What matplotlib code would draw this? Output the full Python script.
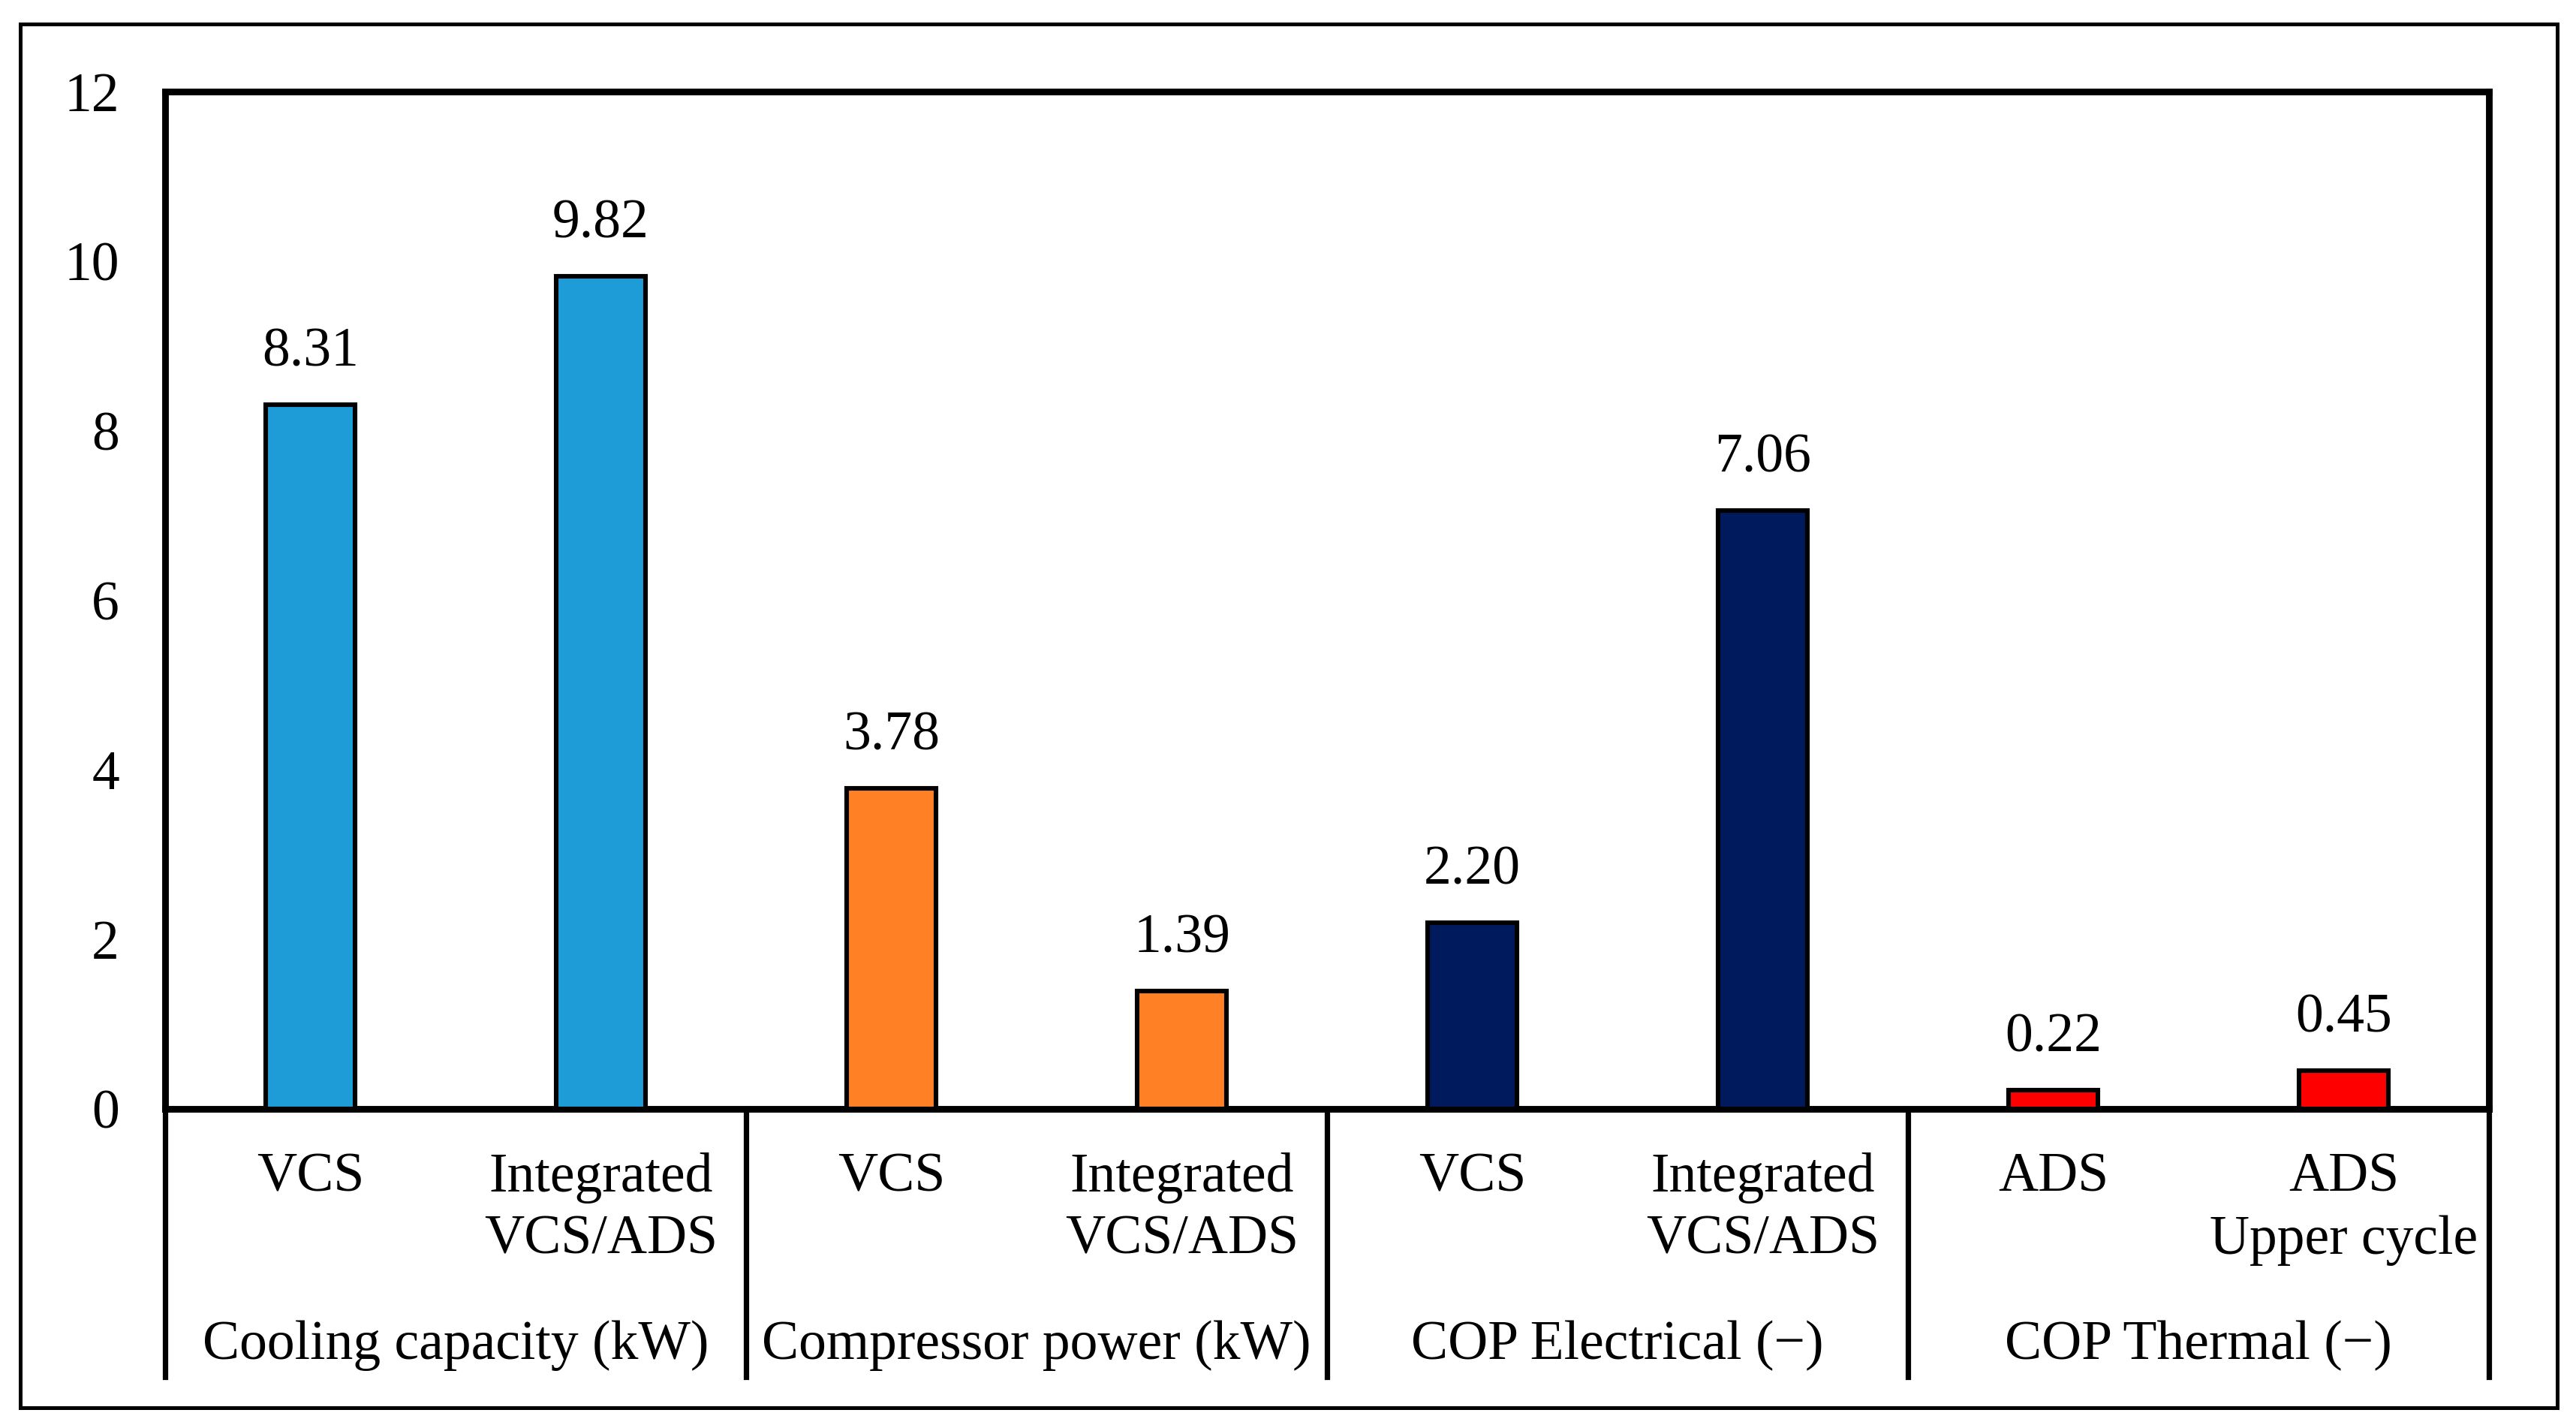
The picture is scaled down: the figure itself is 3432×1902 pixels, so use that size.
import matplotlib
matplotlib.use('Agg')
import matplotlib.pyplot as plt
from matplotlib.patches import Rectangle
from matplotlib.lines import Line2D
import matplotlib.transforms as mtransforms
import numpy as np

plt.rcParams['font.family'] = ['Liberation Serif', 'DejaVu Serif']

# data
bar_labels = ['VCS', 'Integrated\nVCS/ADS', 'VCS', 'Integrated\nVCS/ADS',
              'VCS', 'Integrated\nVCS/ADS', 'ADS', 'ADS\nUpper cycle']
values = [8.31, 9.82, 3.78, 1.39, 2.20, 7.06, 0.22, 0.45]
value_text = ['8.31', '9.82', '3.78', '1.39', '2.20', '7.06', '0.22', '0.45']
groups = ['Cooling capacity (kW)', 'Compressor power (kW)',
          'COP Electrical (\u2212)', 'COP Thermal (\u2212)']
group_colors = ['#1E9CD8', '#FF8025', '#001A5E', '#FF0000']
yticks = [0, 2, 4, 6, 8, 10, 12]

W, H = 3432, 1902
dpi = 200
fs = 26.5
fig = plt.figure(figsize=(W / dpi, H / dpi), dpi=dpi)

# axes box in pixels
left, right, top, zero = 220, 3316, 122, 1477
ax = fig.add_axes([left / W, 1 - zero / H, (right - left) / W, (zero - top) / H])

x = np.arange(len(values)) + 0.5
colors = [group_colors[i // 2] for i in range(len(values))]
ax.bar(x, values, width=0.31, color=colors, edgecolor='black', linewidth=2.2, zorder=3)

for xi, v, t in zip(x, values, value_text):
    ax.annotate(t, (xi, v), xytext=(0, 18.5), textcoords='offset points',
                ha='center', va='baseline', fontsize=fs)

ax.set_xlim(0, len(values))
ax.set_ylim(0, 12)
ax.set_yticks(yticks)
ax.set_yticklabels([str(t) for t in yticks], fontsize=fs)
ax.tick_params(axis='y', length=0, pad=22)
ax.set_xticks([])
for s in ax.spines.values():
    s.set_linewidth(3.2)

# category labels under the axis
trans = mtransforms.blended_transform_factory(ax.transData, fig.transFigure)
for xi, lab in zip(x, bar_labels):
    lines = lab.split('\n')
    ax.text(xi, 1 - 1569 / H, lines[0], transform=trans, ha='center', va='center', fontsize=fs)
    if len(lines) > 1:
        ax.text(xi, 1 - 1652 / H, lines[1], transform=trans, ha='center', va='center', fontsize=fs)
for gi, g in enumerate(groups):
    ax.text(gi * 2 + 1, 1 - 1792 / H, g, transform=trans, ha='center', va='center', fontsize=fs)

# group dividers
for b in range(0, len(values) + 1, 2):
    fig.add_artist(Line2D([b, b], [1 - zero / H, 1 - 1834 / H], transform=trans,
                          color='black', linewidth=2.6))

# outer frame
fig.add_artist(Rectangle((27 / W, 1 - 1875 / H), (3407 - 27) / W, (1875 - 32) / H,
                         transform=fig.transFigure, fill=False, edgecolor='black', linewidth=1.8))

fig.savefig('out.png', dpi=dpi)
